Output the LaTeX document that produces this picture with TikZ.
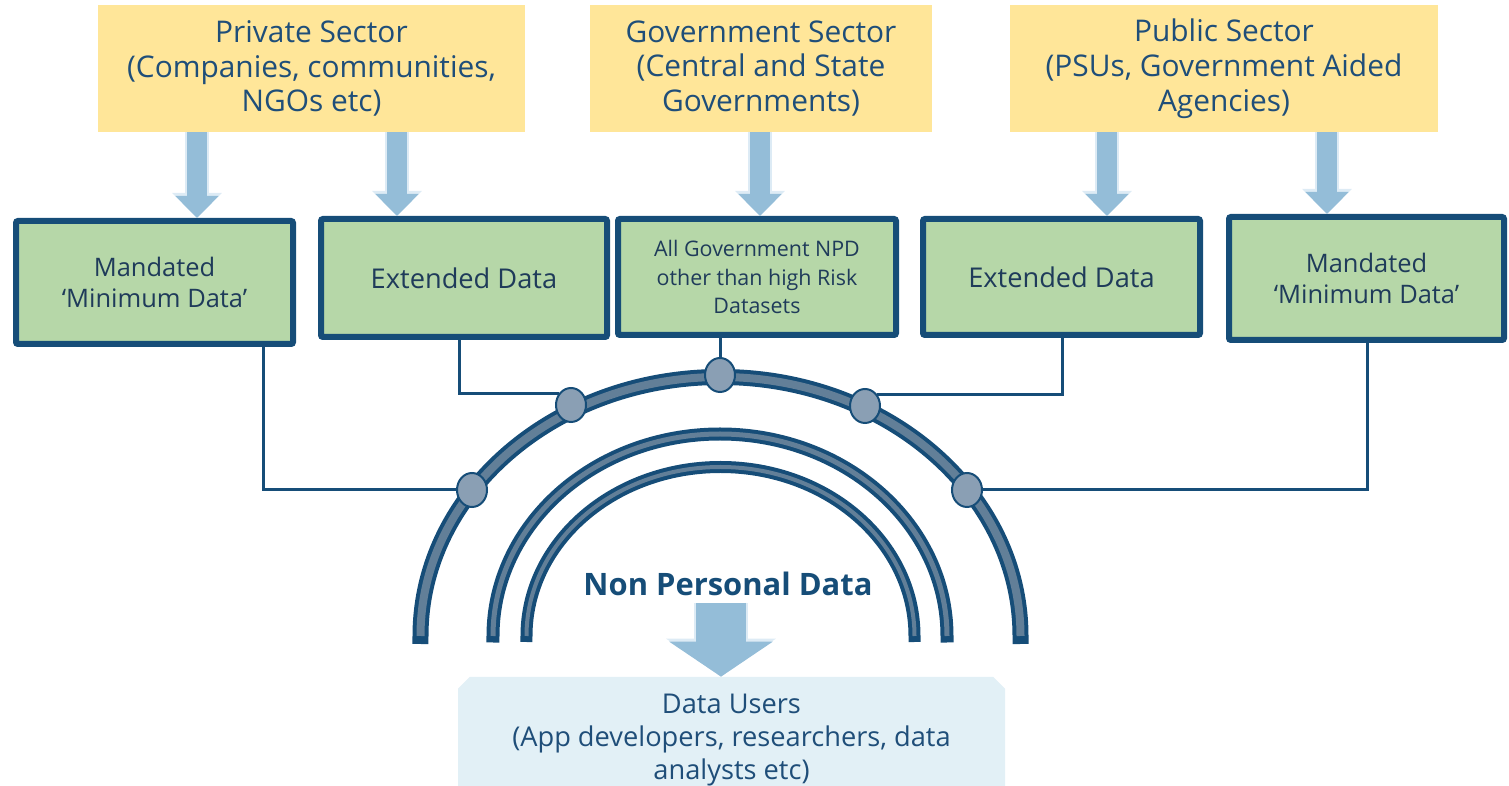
\documentclass[tikz,border=0pt]{standalone}
\usepackage{fontspec}
\setmainfont{Open Sans}
\usepackage{tikz}
\usetikzlibrary{arrows.meta,shapes.geometric,shapes.misc}
\definecolor{navy}{HTML}{164D78}
\definecolor{ink}{HTML}{1F3B5A}
\definecolor{inkblue}{HTML}{1F4E79}
\definecolor{sand}{HTML}{FFE699}
\definecolor{leaf}{HTML}{B6D7A8}
\definecolor{sky}{HTML}{94BDD8}
\definecolor{pale}{HTML}{DDEBF5}
\definecolor{slate}{HTML}{627F98}
\definecolor{dot}{HTML}{8A9FB4}
\definecolor{mist}{HTML}{E2F0F6}
\newlength{\pxu}\setlength{\pxu}{0.02cm}
\tikzset{
  source/.style={fill=sand, text=inkblue, align=center, minimum height=127\pxu,
    font=\fontsize{17}{19.8}\selectfont},
  dataset/.style={draw=navy, fill=leaf, line width=6\pxu, rounded corners=2\pxu,
    text=ink, align=center, font=\fontsize{14.5}{18}\selectfont},
  feed/.style={draw=sky, line width=20\pxu, -{Triangle[width=0.84cm,length=0.44cm]},
    preaction={draw=pale, line width=24\pxu, -{Triangle[width=0.96cm,length=0.5cm]}}},
  link/.style={draw=navy, line width=3\pxu},
  band/.style 2 args={draw=slate, line width=#1,
    preaction={draw=navy, line width=#2, line cap=rect}},
  joint/.style={ellipse, draw=navy, fill=dot, line width=2\pxu, inner sep=0pt,
    minimum width=30\pxu, minimum height=34\pxu},
  userbox/.style={chamfered rectangle, chamfered rectangle corners={north west,north east},
    chamfered rectangle sep=18\pxu, fill=mist, minimum width=547\pxu, minimum height=109\pxu},
}
\begin{document}
\begin{tikzpicture}[x=0.02cm, y=-0.02cm]
  \useasboundingbox (0,0) rectangle (1509,786);

  % data holders
  \node[source, minimum width=427\pxu] (priv) at (311.5,68.5) {Private Sector\\(Companies, communities,\\NGOs etc)};
  \node[source, minimum width=342\pxu] (govt) at (761,68.5) {Government Sector\\(Central and State\\Governments)};
  \node[source, minimum width=428\pxu] (pub) at (1224,68.5) {Public Sector\\(PSUs, Government Aided\\Agencies)};

  % datasets
  \node[dataset, minimum width=277\pxu, minimum height=123\pxu] (min1) at (154.5,282.5) {Mandated\\‘Minimum Data’};
  \node[dataset, minimum width=286\pxu, minimum height=118\pxu, font=\fontsize{15.5}{18}\selectfont] (ext1) at (464,278) {Extended Data};
  \node[dataset, minimum width=278\pxu, minimum height=116\pxu, font=\fontsize{12.2}{16.2}\selectfont] (govd) at (757,277) {All Government NPD\\other than high Risk\\Datasets};
  \node[dataset, minimum width=277\pxu, minimum height=116\pxu, font=\fontsize{15.5}{18}\selectfont] (ext2) at (1061.5,277) {Extended Data};
  \node[dataset, minimum width=275\pxu, minimum height=123\pxu] (min2) at (1366.5,278.5) {Mandated\\‘Minimum Data’};

  % feeds from holders to datasets
  \coordinate (f1) at (197,0);
  \coordinate (f2) at (397,0);
  \coordinate (f3) at (760,0);
  \coordinate (f4) at (1107,0);
  \coordinate (f5) at (1327,0);
  \draw[feed] (priv.south -| f1) -- (f1 |- min1.north);
  \draw[feed] (priv.south -| f2) -- (f2 |- ext1.north);
  \draw[feed] (govt.south -| f3) -- (f3 |- govd.north);
  \draw[feed] (pub.south -| f4) -- (f4 |- ext2.north);
  \draw[feed] (pub.south -| f5) -- (f5 |- min2.north);

  % the three arches
  \draw[band={8\pxu}{16\pxu}] (420.5,636) arc[start angle=180, end angle=0, x radius=300\pxu, y radius=259\pxu];
  \draw[band={5\pxu}{13\pxu}] (493,636) arc[start angle=180, end angle=0, x radius=227\pxu, y radius=202\pxu];
  \draw[band={4\pxu}{12\pxu}] (526.5,636) arc[start angle=180, end angle=0, x radius=194\pxu, y radius=169\pxu];

  % joints on the outer arch
  \node[joint] (j1) at (472,490) {};
  \node[joint] (j2) at (571,405) {};
  \node[joint] (j3) at (720,375) {};
  \node[joint] (j4) at (865,406) {};
  \node[joint] (j5) at (967,490) {};

  \draw[link] ([xshift=108.5\pxu]min1.south) |- (j1);
  \draw[link] ([xshift=-5\pxu]ext1.south) |- (j2.135);
  \draw[link] ([xshift=-37\pxu]govd.south) -- (j3);
  \draw[link] ([xshift=0.5\pxu]ext2.south) |- (j4.45);
  \draw[link] ([xshift=0.5\pxu]min2.south) |- (j5);

  \node[text=navy, font=\bfseries\fontsize{17.6}{21}\selectfont] (npd) at (728,584) {Non Personal Data};

  % users
  \node[userbox] (users) at (731.5,731.5) {};
  \node[text=inkblue, align=center, font=\fontsize{15.5}{18.7}\selectfont] (ulabel) at (731.5,740) {Data Users\\(App developers, researchers, data\\analysts etc)};
  \coordinate (down) at (721,603);
  \draw[feed, line width=50\pxu, -{Triangle[width=2.04cm,length=0.7cm]},
    preaction={draw=pale, line width=54\pxu, -{Triangle[width=2.16cm,length=0.76cm]}}] (down) -- (down |- users.north);
\end{tikzpicture}
\end{document}
